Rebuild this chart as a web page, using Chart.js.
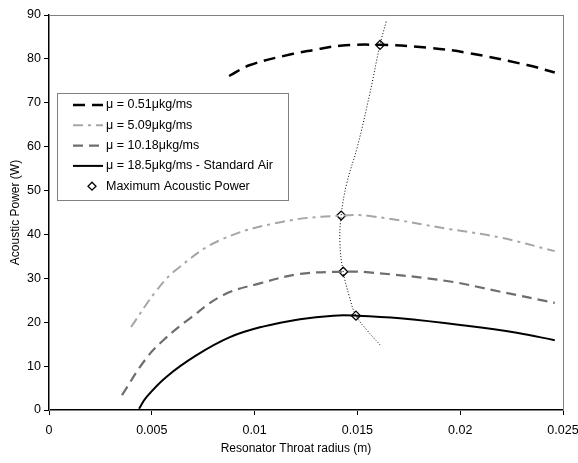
<!DOCTYPE html>
<html>
<head>
<meta charset="utf-8">
<script src="https://cdn.jsdelivr.net/npm/chart.js@4/dist/chart.umd.min.js"></script>
<style>
  html, body { margin: 0; padding: 0; background: #fff; }
  #wrap { width: 578px; height: 463px; }
</style>
</head>
<body>
<div id="wrap"><canvas id="power-chart" width="578" height="463"></canvas></div>
<script>
// throat radius (m) vs acoustic power (W) for each viscosity
const mu051X = [0.00876, 0.00978, 0.01182, 0.01284, 0.01415, 0.0161, 0.01853, 0.02033, 0.02325, 0.0246];
const mu051Y = [76.1, 78.6, 81.1, 82.0, 83.0, 83.2, 82.5, 81.4, 78.6, 76.9];

const mu509X = [0.00399, 0.00524, 0.0062, 0.00832, 0.01138, 0.01421, 0.0156, 0.0195, 0.02194, 0.0246];
const mu509Y = [18.9, 27.3, 32.0, 38.7, 42.9, 44.3, 44.2, 41.2, 39.3, 36.2];

const mu1018X = [0.00355, 0.00467, 0.00556, 0.00686, 0.00848, 0.0103, 0.01221, 0.01431, 0.01545, 0.01934, 0.0219, 0.0246];
const mu1018Y = [3.4, 11.4, 15.9, 20.9, 26.2, 28.9, 31.0, 31.5, 31.4, 29.4, 27.0, 24.4];

const mu185X = [0.00438, 0.00475, 0.00572, 0.00718, 0.0088, 0.0104, 0.01221, 0.01383, 0.01493, 0.01707, 0.02032, 0.02275, 0.0246];
const mu185Y = [0.3, 3.0, 7.6, 12.5, 16.6, 19.0, 20.7, 21.5, 21.5, 20.9, 19.2, 17.6, 15.9];

// maxima and the curve through them
const maxX = [0.0161, 0.01421, 0.01431, 0.01493];
const maxY = [83.2, 44.3, 31.5, 21.5];
const maxTrendX = [0.0164, 0.0161, 0.0156, 0.0150, 0.01448, 0.01421, 0.01415, 0.01431, 0.0146, 0.01493, 0.0155, 0.01611];
const maxTrendY = [88.5, 83.2, 72, 60, 51.6, 44.3, 38, 31.5, 26, 21.5, 18, 14.8];

const seriesLabels = [
    'μ = 0.51μkg/ms',
    'μ = 5.09μkg/ms',
    'μ = 10.18μkg/ms',
    'μ = 18.5μkg/ms - Standard Air',
    'Maximum Acoustic Power'
];

const xTicks = [0, 0.005, 0.01, 0.015, 0.02, 0.025];
const FONT = '"Liberation Sans", Arial, sans-serif';

function toPoints(xs, ys) {
    return xs.map((x, i) => ({ x: x, y: ys[i] }));
}

function curve(label, xs, ys, color, width, dash) {
    return {
        label: label,
        data: toPoints(xs, ys),
        borderColor: color,
        backgroundColor: color,
        borderWidth: width,
        borderDash: dash,
        pointRadius: 0,
        tension: 0.4,
        fill: false
    };
}

const datasets = [
    curve(seriesLabels[0], mu051X, mu051Y, '#000000', 2.5, [12, 7]),
    curve(seriesLabels[1], mu509X, mu509Y, '#a6a6a6', 2, [10, 5, 3, 5]),
    curve(seriesLabels[2], mu1018X, mu1018Y, '#6e6e6e', 2.2, [10, 6]),
    curve(seriesLabels[3], mu185X, mu185Y, '#000000', 2, []),
    {
        label: '',
        data: toPoints(maxTrendX, maxTrendY),
        borderColor: '#000000',
        borderWidth: 1,
        borderDash: [1, 2],
        pointRadius: 0,
        tension: 0.4,
        fill: false,
        noLegend: true
    },
    {
        label: seriesLabels[4],
        data: toPoints(maxX, maxY),
        showLine: false,
        pointStyle: 'rectRot',
        pointRadius: 4.5,
        pointBorderWidth: 1.3,
        pointBorderColor: '#000000',
        pointBackgroundColor: '#ffffff'
    }
];

// plot-area frame, x title, and a boxed legend sitting inside the plot
const framePlugin = {
    id: 'frameAndLegend',
    beforeDatasetsDraw(chart) {
        const { ctx, chartArea: a } = chart;
        ctx.save();
        ctx.strokeStyle = '#808080';
        ctx.lineWidth = 1;
        ctx.strokeRect(a.left + 0.5, a.top + 0.5, a.right - a.left, a.bottom - a.top);
        ctx.restore();
    },
    afterDraw(chart) {
        const ctx = chart.ctx;
        ctx.save();
        ctx.font = '12px ' + FONT;
        ctx.fillStyle = '#000000';
        ctx.textAlign = 'center';
        ctx.textBaseline = 'middle';
        ctx.fillText('Resonator Throat radius (m)', 296, 449);

        const box = { x: 57.5, y: 93.5, w: 231, h: 107 };
        ctx.fillStyle = '#ffffff';
        ctx.fillRect(box.x, box.y, box.w, box.h);
        ctx.strokeStyle = '#808080';
        ctx.lineWidth = 1;
        ctx.strokeRect(box.x, box.y, box.w, box.h);

        ctx.font = '12.5px ' + FONT;
        ctx.textAlign = 'left';
        const entries = chart.data.datasets.filter(d => !d.noLegend);
        entries.forEach((ds, i) => {
            const y = 105 + i * 20.3;
            if (ds.showLine === false) {
                ctx.beginPath();
                ctx.moveTo(92, y - 4);
                ctx.lineTo(96, y);
                ctx.lineTo(92, y + 4);
                ctx.lineTo(88, y);
                ctx.closePath();
                ctx.fillStyle = '#ffffff';
                ctx.fill();
                ctx.lineWidth = 1.3;
                ctx.strokeStyle = '#000000';
                ctx.stroke();
            } else {
                ctx.beginPath();
                ctx.setLineDash(ds.borderDash || []);
                ctx.strokeStyle = ds.borderColor;
                ctx.lineWidth = ds.borderWidth;
                ctx.moveTo(73, y);
                ctx.lineTo(103, y);
                ctx.stroke();
                ctx.setLineDash([]);
            }
            ctx.fillStyle = '#000000';
            ctx.fillText(ds.label, 106, y);
        });
        ctx.restore();
    }
};

const ctx = document.getElementById('power-chart').getContext('2d');
new Chart(ctx, {
    type: 'line',
    data: { datasets: datasets },
    options: {
        responsive: false,
        animation: false,
        layout: { padding: { top: 15, right: 15, left: 0, bottom: 0 } },
        plugins: {
            legend: { display: false },
            tooltip: { enabled: false }
        },
        scales: {
            x: {
                type: 'linear',
                min: 0,
                max: 0.025,
                afterBuildTicks: (scale) => {
                    scale.ticks = xTicks.map(v => ({ value: v }));
                },
                afterFit: (scale) => {
                    scale.height = 53;
                    scale.paddingLeft = 0;
                    scale.paddingRight = 0;
                },
                grid: {
                    drawOnChartArea: false,
                    drawTicks: true,
                    tickLength: 5,
                    color: '#000000',
                    lineWidth: 1
                },
                border: { color: '#000000', width: 1.5 },
                ticks: {
                    color: '#000000',
                    padding: 8,
                    maxRotation: 0,
                    font: { family: FONT, size: 12.5 },
                    callback: (v) => String(v)
                }
            },
            y: {
                min: 0,
                max: 90,
                afterFit: (scale) => {
                    scale.width = 49;
                    scale.paddingTop = 0;
                    scale.paddingBottom = 0;
                },
                grid: {
                    drawOnChartArea: false,
                    drawTicks: true,
                    tickLength: 5,
                    color: '#000000',
                    lineWidth: 1
                },
                border: { color: '#000000', width: 1.5 },
                ticks: {
                    stepSize: 10,
                    color: '#000000',
                    padding: 3,
                    font: { family: FONT, size: 12.5 }
                },
                title: {
                    display: true,
                    text: 'Acoustic Power (W)',
                    color: '#000000',
                    padding: { top: 8, bottom: 0 },
                    font: { family: FONT, size: 12 }
                }
            }
        }
    },
    plugins: [framePlugin]
});
</script>
</body>
</html>
